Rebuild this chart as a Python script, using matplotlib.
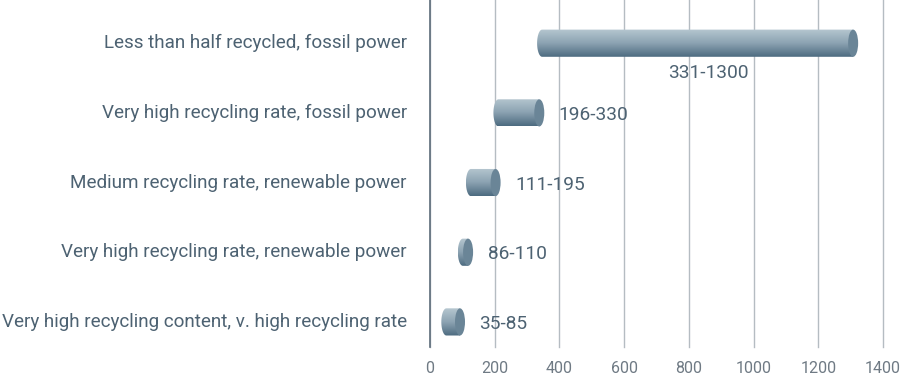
import matplotlib
matplotlib.use("Agg")
import matplotlib.pyplot as plt
import numpy as np
from matplotlib.patches import Ellipse, PathPatch
from matplotlib.path import Path
from matplotlib.colors import LinearSegmentedColormap

categories = [
    "Less than half recycled, fossil power",
    "Very high recycling rate, fossil power",
    "Medium recycling rate, renewable power",
    "Very high recycling rate, renewable power",
    "Very high recycling content, v. high recycling rate",
]
starts = [331, 196, 111, 86, 35]
ends = [1300, 330, 195, 110, 85]
labels = ["331-1300", "196-330", "111-195", "86-110", "35-85"]
xticks = [0, 200, 400, 600, 800, 1000, 1200, 1400]

plt.rcParams['font.family'] = ['Roboto', 'DejaVu Sans']

fig = plt.figure(figsize=(9, 3.75), dpi=100)
ax = fig.add_axes([430/900, 28/375, 453/900, 347/375])

text_col = '#4d6272'
ax.set_xticks(xticks)
ax.set_xticklabels([str(t) for t in xticks], color='#6f7a84', fontsize=11.5)
ax.tick_params(axis='x', length=0, pad=10)
ax.set_yticks([])
for s in ['top', 'right', 'bottom']:
    ax.spines[s].set_visible(False)
ax.spines['left'].set_color('#5f6f7c')
ax.spines['left'].set_linewidth(1.2)
ax.grid(axis='x', color='#b5bcc2', linewidth=1, clip_on=False)
ax.set_axisbelow(True)

h = 0.39
px_per_unit = 453 / 1400
cap_w = 10 / px_per_unit  # ellipse width in data units

grad = np.linspace(0, 1, 100).reshape(-1, 1)
cmap = LinearSegmentedColormap.from_list('cyl', ['#b6c7d0', '#8ca3b2', '#4d6b80'])

for i, (s, e) in enumerate(zip(starts, ends)):
    y0, y1 = i - h/2, i + h/2
    ec = e + cap_w / 4
    theta = np.linspace(np.pi/2, 3*np.pi/2, 30)
    lx = s + cap_w/2 + (cap_w/2) * np.cos(theta)
    ly = i - (h/2) * np.sin(theta)
    verts = [(ec, y0)] + list(zip(lx, ly)) + [(ec, y1), (ec, y0)]
    codes = [Path.MOVETO] + [Path.LINETO] * (len(verts) - 2) + [Path.CLOSEPOLY]
    path = Path(verts, codes)
    patch = PathPatch(path, facecolor='none', edgecolor='none')
    ax.add_patch(patch)
    im = ax.imshow(grad, aspect='auto', cmap=cmap,
                   extent=[s, ec, y1, y0], origin='upper', zorder=3)
    im.set_clip_path(patch)
    cap = Ellipse((ec, i), cap_w, h, facecolor='#6a8597', edgecolor='none', zorder=4)
    ax.add_patch(cap)

# value labels
ax.text(859, 0.43, labels[0], ha='center', va='center', color=text_col, fontsize=13.8)
for i in range(1, 5):
    ax.text(ends[i] + 22 / px_per_unit, i + 0.03, labels[i], ha='left', va='center',
            color=text_col, fontsize=13.8)

for i, c in enumerate(categories):
    ax.text(-23 / px_per_unit, i, c, ha='right', va='center', color=text_col, fontsize=13.6)

ax.set_xlim(0, 1400)
ax.set_ylim(4.36, -0.62)
fig.savefig('out.png', dpi=100)
